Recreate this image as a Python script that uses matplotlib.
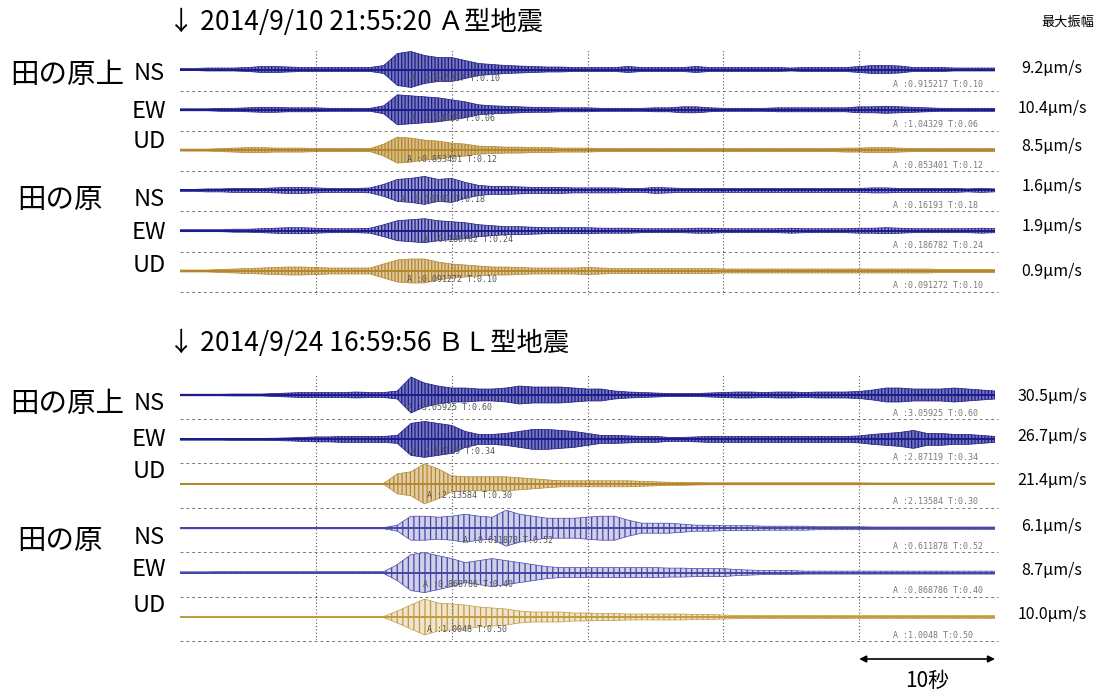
import numpy as np
import matplotlib.pyplot as plt

plt.rcParams['font.family'] = ['Noto Sans CJK JP', 'DejaVu Sans']
plt.rcParams['hatch.linewidth'] = 0.9

W, H = 1099, 693

# time axis (s), one envelope value per second, amplitudes in pixels
t = np.arange(61)

# --- A型地震 2014/9/10 21:55:20 ---
a_kami_ns = [1, 1, 1.5, 1.5, 1.5, 2, 3, 3, 2.5, 2, 2, 2, 2, 2, 2, 4, 16, 18, 14, 12, 12, 9, 6, 5, 4, 3.5, 3,
             2.5, 2.5, 2, 2, 2, 2, 3, 2, 2, 2, 2, 3, 2, 2, 2, 2, 2, 2, 1.5, 2, 2, 2, 2, 3, 4, 4, 3.5, 2, 2,
             2, 1.5, 1.5, 1.5, 1.5]
a_kami_ew = [1, 1, 1, 1.5, 1.5, 2, 2.5, 2.5, 2, 2, 2, 1.5, 1.5, 1.5, 1.5, 4, 15, 14, 13, 12, 10, 8, 5, 4, 3.5,
             3, 2.5, 2.5, 2, 2, 2, 1.5, 1.5, 1.5, 1.5, 2, 2, 3, 3, 2, 1.5, 1.5, 1.5, 1.5, 2, 2, 2, 2, 2, 2,
             3, 3, 3.5, 3, 2.5, 2, 1.5, 1.5, 1.5, 1.5, 1.5]
a_kami_ud = [1, 1, 1, 1.5, 2, 2.5, 2.5, 2, 2, 2, 1.5, 1.5, 1.5, 1.5, 1.5, 6, 13, 12, 10, 9, 7, 6, 4, 3.5, 3, 3,
             2.5, 2.5, 2, 2, 2, 1.5, 1.5, 1.5, 1.5, 1.5, 1.5, 1.5, 1.5, 1.5, 1.5, 1.5, 1.5, 1.5, 1.5, 1.5,
             1.5, 1.5, 1.5, 2, 2, 2.5, 2.5, 2, 1.5, 1.5, 1.5, 1.5, 1.5, 1.5, 1.5]
a_tano_ns = [1, 1, 1.5, 1.5, 2, 2, 2, 2.5, 3, 3, 2.5, 2, 2, 2, 2.5, 6, 11, 12, 14, 11, 12, 8, 5, 4, 4, 3.5, 3,
             3, 3, 2.5, 2.5, 2.5, 2.5, 2, 2, 3, 2.5, 2, 2, 2, 2, 2, 2, 2, 2, 2, 2, 2, 2, 2, 2, 2.5, 2.5, 2,
             2, 2, 2, 2, 1.5, 2, 1.5]
a_tano_ew = [1, 1, 1, 1, 1.5, 1.5, 2, 2.5, 3, 3, 2.5, 2, 2, 2, 2.5, 6, 10, 11, 12, 10, 9, 8, 6, 5, 4, 4, 3.5,
             3, 3, 3, 3, 2.5, 2.5, 2.5, 2, 2, 2, 2, 2.5, 2.5, 2, 2, 2, 2, 2, 2.5, 2, 2, 2, 2, 2.5, 2.5, 3,
             2.5, 2, 2, 2, 2, 2, 2.5, 2]
a_tano_ud = [1, 1, 1, 1.5, 2, 2.5, 3, 3.5, 4, 4, 3.5, 3, 3, 3, 3, 7, 11, 12, 12, 9, 7, 6, 5, 4, 4, 3.5, 3, 3,
             3, 3, 3.5, 3, 2.5, 2.5, 2.5, 2.5, 2.5, 2.5, 2.5, 2.5, 2, 2, 2, 2, 2, 2, 2, 2, 2, 2, 2, 2, 2,
             2, 2, 2, 1.5, 1.5, 1.5, 1.5, 1.5]

# --- BL型地震 2014/9/24 16:59:56 ---
b_kami_ns = [0.8, 0.8, 0.8, 0.8, 1, 1, 1, 1.5, 2, 2.5, 2.5, 2.5, 2.5, 3, 2.5, 2.5, 4, 18, 12, 9, 7, 7, 6, 6,
             7, 9, 8, 8, 8, 7, 6, 6, 4, 3, 2.5, 2, 1.5, 1.5, 1.5, 2, 2.5, 3, 3, 2.5, 3, 3, 2.5, 3, 3, 3,
             3.5, 5, 7, 7, 6, 6, 6, 7, 6, 5, 4]
b_kami_ew = [0.8, 0.8, 0.8, 0.8, 1, 1, 1, 1.2, 1.5, 2, 2.5, 2.5, 3, 3, 3, 3, 4, 16, 18, 16, 14, 8, 5, 5, 6, 8,
             10, 10, 9, 8, 6, 4, 4, 3.5, 3, 3, 2, 2, 2.5, 3, 3, 3, 3, 3, 3, 3, 3, 3, 3, 3, 3.5, 5, 6, 7, 9,
             6, 6, 5, 5, 4, 3]
b_kami_ud = [0.5, 0.5, 0.5, 0.5, 0.5, 0.5, 0.5, 0.5, 0.5, 0.5, 0.5, 0.5, 0.5, 0.5, 0.5, 0.5, 10, 12, 20, 15,
             8, 7, 7, 7, 7, 6, 5, 4, 3, 3, 3, 3, 3, 3, 2.5, 2, 1.5, 1.5, 1.2, 1, 1, 1, 1, 1, 1, 1, 1, 1, 1,
             1, 1, 0.8, 0.8, 0.8, 0.8, 0.8, 0.8, 0.8, 0.8, 0.8, 0.8]
b_tano_ns = [0.6, 0.6, 0.6, 0.6, 0.6, 0.6, 0.6, 0.6, 0.6, 0.6, 0.6, 0.6, 0.6, 0.6, 0.6, 0.6, 3, 12, 12, 11,
             12, 14, 12, 11, 18, 14, 12, 10, 10, 10, 11, 12, 12, 8, 5, 5, 5, 4, 3, 3, 2.5, 2.5, 2.5, 2, 2,
             2, 2, 1.5, 1.5, 1.5, 1.5, 1.2, 1.2, 1.2, 1.2, 1.2, 1.2, 1.2, 1.2, 1.2, 1.2]
b_tano_ew = [0.8, 0.8, 0.8, 1, 1, 1, 1, 1, 1, 1, 1, 1, 1, 1, 1, 1, 8, 18, 20, 17, 14, 10, 12, 14, 12, 10, 8,
             6, 5, 5, 5, 5, 5, 5, 5, 5, 4.5, 4.5, 4, 4, 4, 3, 2.5, 2, 2, 2, 1.5, 1.5, 1.5, 1.5, 1.5, 1.5,
             1.5, 1.5, 1.5, 1.5, 1.5, 1.5, 1.5, 1.5, 1.5]
b_tano_ud = [0.5, 0.5, 0.5, 0.5, 0.5, 0.5, 0.5, 0.5, 0.5, 0.5, 0.5, 0.5, 0.5, 0.5, 0.5, 0.5, 6, 12, 18, 14,
             13, 12, 10, 9, 8, 6, 5, 5, 5, 4, 4, 3.5, 3.5, 3, 3, 3, 3, 3, 2.5, 2.5, 2, 1.5, 1.5, 1.5, 1.5,
             1.5, 1.5, 1.5, 1.5, 1.5, 1.5, 1.5, 1.5, 1.5, 1.5, 1.5, 1.5, 1.5, 1.5, 1.5, 1.5]

ann_a = ['A :0.915217 T:0.10', 'A :1.04329 T:0.06', 'A :0.853401 T:0.12',
         'A :0.16193 T:0.18', 'A :0.186782 T:0.24', 'A :0.091272 T:0.10']
ann_b = ['A :3.05925 T:0.60', 'A :2.87119 T:0.34', 'A :2.13584 T:0.30',
         'A :0.611878 T:0.52', 'A :0.868786 T:0.40', 'A :1.0048 T:0.50']
peak_a = ['9.2µm/s', '10.4µm/s', '8.5µm/s', '1.6µm/s', '1.9µm/s', '0.9µm/s']
peak_b = ['30.5µm/s', '26.7µm/s', '21.4µm/s', '6.1µm/s', '8.7µm/s', '10.0µm/s']
comps = ['NS', 'EW', 'UD', 'NS', 'EW', 'UD']
stations = ['田の原上', '田の原']

blue = '#1b1b8c'
brown = '#b5862a'
light_blue = '#4545a8'
light_brown = '#c39a3e'


def fx(x):
    return x / W


def fy(y):
    return 1 - y / H


def panel(top, bottom, base, step, envs, colors, alphas, hatches, ann, ann_x, peaks, lab_y, stat_y, gap):
    ax = fig.add_axes([fx(180), fy(bottom), fx(995) - fx(180), fy(top) - fy(bottom)])
    ax.set_xlim(0, 60)
    ax.set_ylim(bottom, top)
    ax.axis('off')
    for v in range(10, 60, 10):
        ax.axvline(v, color='#555555', lw=0.8, ls=(0, (1, 2)))
    for i, env in enumerate(envs):
        y0 = base + i * step
        env = np.array(env)
        # envelope of the trace: fill plus dense vertical strokes
        ax.fill_between(t, y0 - env, y0 + env, facecolor=colors[i], alpha=alphas[i], lw=0)
        ax.fill_between(t, y0 - env, y0 + env, facecolor='none', edgecolor=colors[i],
                        hatch=hatches[i], lw=0.5)
        ax.plot(t, np.full(len(t), y0), color=colors[i], lw=1.4)
        ax.plot([0, 60.2], [y0 + gap, y0 + gap], color='#777777', lw=0.7,
                ls=(0, (3, 3)), clip_on=False)
        ax.text(52.5, y0 + gap - 6, ann[i], fontsize=6, color='#7a7a7a',
                family='DejaVu Sans Mono', va='center')
        ax.text((ann_x[i] - 180) / 13.58, y0 + gap - 12, ann[i], fontsize=6,
                color='#555555', family='DejaVu Sans Mono', va='center')
        fig.text(fx(1052), fy(lab_y[i][1]), peaks[i], fontsize=11.5, ha='center', va='center')
        fig.text(fx(149), fy(lab_y[i][0]), comps[i], fontsize=17, ha='center', va='center')
    fig.text(fx(67), fy(stat_y[0]), stations[0], fontsize=20.5, ha='center', va='center')
    fig.text(fx(60), fy(stat_y[1]), stations[1], fontsize=20.5, ha='center', va='center')
    return ax


fig = plt.figure(figsize=(W / 100, H / 100), dpi=100)

# top panel
ax1 = panel(50, 295, 69.5, 40.3,
            [a_kami_ns, a_kami_ew, a_kami_ud, a_tano_ns, a_tano_ew, a_tano_ud],
            [blue, blue, brown, blue, blue, brown],
            [0.6, 0.6, 0.55, 0.45, 0.45, 0.45],
            ['|||||'] * 6,
            ann_a, [410, 410, 407, 400, 423, 407], peak_a,
            [(73, 68), (112, 109), (141, 147), (199, 187), (232, 226), (266, 272)],
            (75, 200), 21)
ax1.axvline(60.1, color='#555555', lw=0.8, ls=(0, (1, 2)))

# bottom panel
ax2 = panel(375, 640, 395, 44.4,
            [b_kami_ns, b_kami_ew, b_kami_ud, b_tano_ns, b_tano_ew, b_tano_ud],
            [blue, blue, brown, light_blue, light_blue, light_brown],
            [0.6, 0.6, 0.4, 0.25, 0.25, 0.25],
            ['|||||', '|||||', '||||', '|||', '|||', '|||'],
            ann_b, [407, 410, 427, 463, 423, 427], peak_b,
            [(404, 397), (440, 437), (472, 481), (537, 526), (570, 570), (605, 614)],
            (404, 541), 24)
ax2.axvline(-0.15, color='#9cc3e6', lw=1.2)

fig.text(fx(168), fy(22), '↓ 2014/9/10 21:55:20 Ａ型地震', fontsize=19, va='center')
fig.text(fx(168), fy(343), '↓ 2014/9/24 16:59:56 ＢＬ型地震', fontsize=19, va='center')
fig.text(fx(1068), fy(22), '最大振幅', fontsize=9.5, ha='center', va='center')

# 10 s scale bar
ax2.annotate('', xy=(60, 659), xytext=(50, 659), xycoords='data', annotation_clip=False,
             arrowprops=dict(arrowstyle='<|-|>', color='black', lw=1.2, mutation_scale=10,
                             shrinkA=0, shrinkB=0))
ax2.text(55, 681, '10秒', fontsize=15, ha='center', va='center', clip_on=False)

fig.savefig('out.png', dpi=100)
